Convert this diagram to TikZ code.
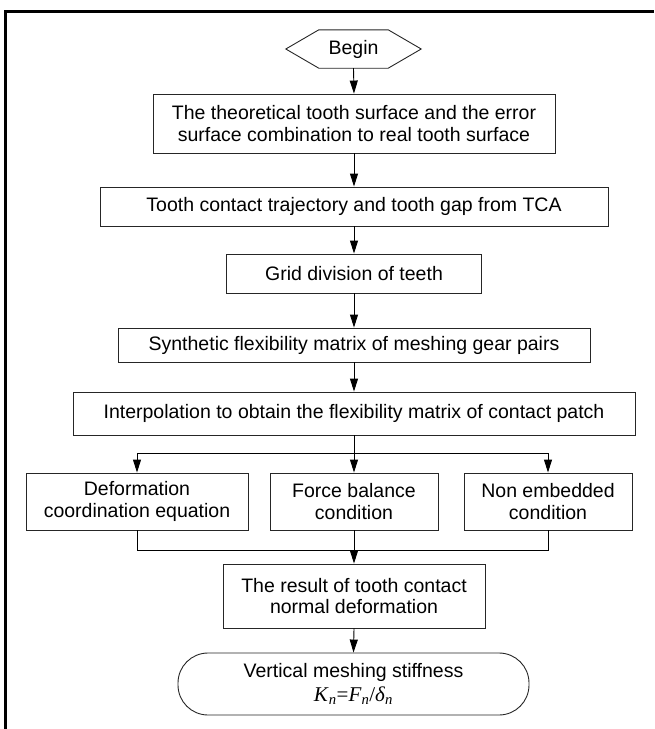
\documentclass[tikz,border=0pt]{standalone}
\usepackage{fontspec}
\setmainfont{Liberation Sans}
\newfontfamily\tnr{Liberation Serif}
\usetikzlibrary{arrows.meta}
\begin{document}
\begin{tikzpicture}[x=1pt,y=1pt,
  every node/.style={font=\fontsize{19.5}{21.5}\selectfont, text=black},
  box/.style={draw=black!85, line width=0.9pt, rectangle, align=center, inner sep=0pt},
  arr/.style={-{Triangle[length=13pt,width=8pt]}, line width=0.9pt, draw=black},
  ln/.style={line width=0.9pt, draw=black}]
\useasboundingbox (0,0) rectangle (654,-729);
% frame
\draw[line width=3pt] (5,-729) -- (5,-11) -- (654,-11);
% nodes
\node (begin) [inner sep=0pt, minimum width=135pt, minimum height=38pt] at (353.5,-49) {Begin};
\draw[box] (begin.west) -- ([xshift=33pt]begin.north west) -- ([xshift=-33pt]begin.north east) -- (begin.east) -- ([xshift=-33pt]begin.south east) -- ([xshift=33pt]begin.south west) -- cycle;
\node (b1) [box, minimum width=402pt, minimum height=59pt] at (354,-123.5) {The theoretical tooth surface and the error\\surface combination to real tooth surface};
\node (b2) [box, minimum width=508pt, minimum height=39pt] at (354,-206.5) {Tooth contact trajectory and tooth gap from TCA};
\node (b3) [box, minimum width=255pt, minimum height=39pt] at (354,-273.5) {Grid division of teeth};
\node (b4) [box, minimum width=472pt, minimum height=34pt] at (354,-345) {Synthetic flexibility matrix of meshing gear pairs};
\node (b5) [box, minimum width=562pt, minimum height=43pt] at (354,-413.5) {Interpolation to obtain the flexibility matrix of contact patch};
\node (b6) [box, minimum width=222pt, minimum height=57pt] at (137,-501.5) {Deformation\\coordination equation};
\node (b7) [box, minimum width=168pt, minimum height=57pt] at (354,-501.5) {Force balance\\condition};
\node (b8) [box, minimum width=168pt, minimum height=57pt] at (548,-501.5) {Non embedded\\condition};
\node (b9) [box, minimum width=262pt, minimum height=64pt] at (354,-596) {The result of tooth contact\\normal deformation};
\node (term) [box, rounded corners=30pt, minimum width=351pt, minimum height=62pt] at (353.5,-684)
  {Vertical meshing stiffness\\[3pt]{\tnr\fontsize{21}{22}\selectfont\textit{K}\textsubscript{\textit{n}}=\textit{F}\textsubscript{\textit{n}}/\textit{δ}\textsubscript{\textit{n}}}};
% connectors
\draw[arr] (begin.south) -- (b1.north);
\draw[arr] (b1.south) -- (b2.north);
\draw[arr] (b2.south) -- (b3.north);
\draw[arr] (b3.south) -- (b4.north);
\draw[arr] (b4.south) -- (b5.north);
\coordinate (split) at (354,-453);
\coordinate (join) at (354,-550);
\draw[arr] (b5.south) -- (b7.north);
\draw[ln] (b6.north |- split) -- (b8.north |- split);
\draw[arr] (b6.north |- split) -- (b6.north);
\draw[arr] (b8.north |- split) -- (b8.north);
\draw[ln] (b6.south) -- (b6.south |- join) -- (b8.south |- join) -- (b8.south);
\draw[arr] (b7.south) -- (b9.north);
\draw[arr] (b9.south) -- (term.north);
\end{tikzpicture}
\end{document}
